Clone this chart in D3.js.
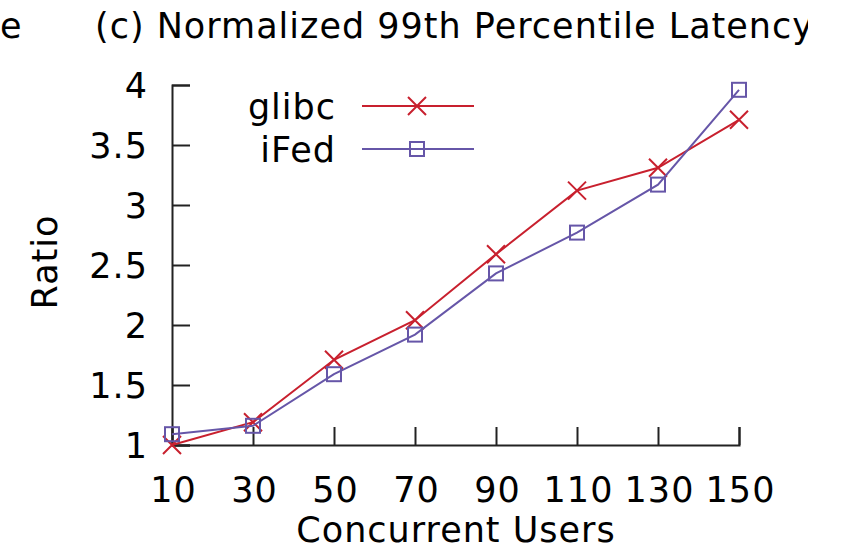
<!DOCTYPE html>
<html>
<head>
<meta charset="utf-8">
<script src="https://cdn.jsdelivr.net/npm/d3@7"></script>
<style>
  body { margin: 0; background: #fff; }
  text { font-family: "DejaVu Sans", sans-serif; fill: #000; letter-spacing: 1px; }
</style>
</head>
<body>
<svg id="chart" width="844" height="549"></svg>
<script>
/* Data */
const users = [10, 30, 50, 70, 90, 110, 130, 150];
const glibc = [1.0, 1.19, 1.71, 2.04, 2.59, 3.12, 3.31, 3.71];
const ifed = [1.09, 1.16, 1.59, 1.92, 2.43, 2.77, 3.17, 3.96];
const yTicks = [1, 1.5, 2, 2.5, 3, 3.5, 4];
const seriesNames = ['glibc', 'iFed'];
const colors = ['#c8202e', '#6656a8'];

/* Layout */
const svg = d3.select('#chart');
const plotLeft = 172, plotRight = 739, plotTop = 85, plotBottom = 445;
const fs = 35;

const x = d3.scaleLinear().domain([10, 150]).range([plotLeft, plotRight]);
const y = d3.scaleLinear().domain([1, 4]).range([plotBottom, plotTop]);

svg.append('defs').append('clipPath').attr('id', 'titleClip')
  .append('rect').attr('x', 0).attr('y', 0).attr('width', 808).attr('height', 60);

// neighbouring title fragment + title
svg.append('text').attr('x', 0).attr('y', 38).style('font-size', fs + 'px').text('e');
svg.append('text').attr('x', 95).attr('y', 38)
  .attr('clip-path', 'url(#titleClip)')
  .style('font-size', fs + 'px')
  .text('(c) Normalized 99th Percentile Latency');

/* Axes */
const yAxis = d3.axisLeft(y).tickValues(yTicks).tickSize(-18).tickPadding(24)
  .tickFormat(d3.format('~g'));
const xAxis = d3.axisBottom(x).tickValues(users).tickSize(-18).tickPadding(32);

const gy = svg.append('g').attr('transform', `translate(${plotLeft},0)`).call(yAxis);
const gx = svg.append('g').attr('transform', `translate(0,${plotBottom})`).call(xAxis);

[gx, gy].forEach(g => {
  g.select('.domain').attr('stroke', '#222').attr('stroke-width', 2);
  g.selectAll('.tick line').attr('stroke', '#222').attr('stroke-width', 2);
  g.selectAll('.tick text').style('font-size', fs + 'px')
    .style('font-family', '"DejaVu Sans", sans-serif').attr('fill', '#000');
});
gy.selectAll('.tick text').attr('x', -24).attr('dy', '0.36em');
gx.selectAll('.tick text').attr('dx', 1);

svg.append('text').attr('x', 456).attr('y', 542).attr('text-anchor', 'middle')
  .style('font-size', fs + 'px').text('Concurrent Users');
svg.append('text').attr('transform', 'translate(57,262) rotate(-90)')
  .attr('text-anchor', 'middle').style('font-size', fs + 'px').text('Ratio');

/* Markers */
const drawCross = (g, cx, cy, color) => {
  const s = 9;
  g.append('path')
    .attr('d', `M${cx - s},${cy - s}L${cx + s},${cy + s}M${cx - s},${cy + s}L${cx + s},${cy - s}`)
    .attr('stroke', color).attr('stroke-width', 2).attr('fill', 'none');
};
const drawSquare = (g, cx, cy, color) => {
  const s = 7;
  g.append('rect').attr('x', cx - s).attr('y', cy - s).attr('width', 2 * s).attr('height', 2 * s)
    .attr('stroke', color).attr('stroke-width', 2).attr('fill', 'none');
};
const markers = [drawCross, drawSquare];

/* Lines */
const line = d3.line().x((d, i) => x(users[i])).y(d => y(d));
[glibc, ifed].forEach((vals, k) => {
  const g = svg.append('g');
  g.append('path').datum(vals).attr('d', line)
    .attr('fill', 'none').attr('stroke', colors[k]).attr('stroke-width', 2);
  vals.forEach((v, i) => markers[k](g, x(users[i]), y(v), colors[k]));
});

/* Legend */
const legY = [106, 149];
seriesNames.forEach((name, k) => {
  svg.append('text').attr('x', 336).attr('y', legY[k]).attr('dy', '0.36em')
    .attr('text-anchor', 'end').style('font-size', fs + 'px').text(name);
  svg.append('line').attr('x1', 362).attr('x2', 474).attr('y1', legY[k]).attr('y2', legY[k])
    .attr('stroke', colors[k]).attr('stroke-width', 2);
  markers[k](svg, 417, legY[k], colors[k]);
});
</script>
</body>
</html>
